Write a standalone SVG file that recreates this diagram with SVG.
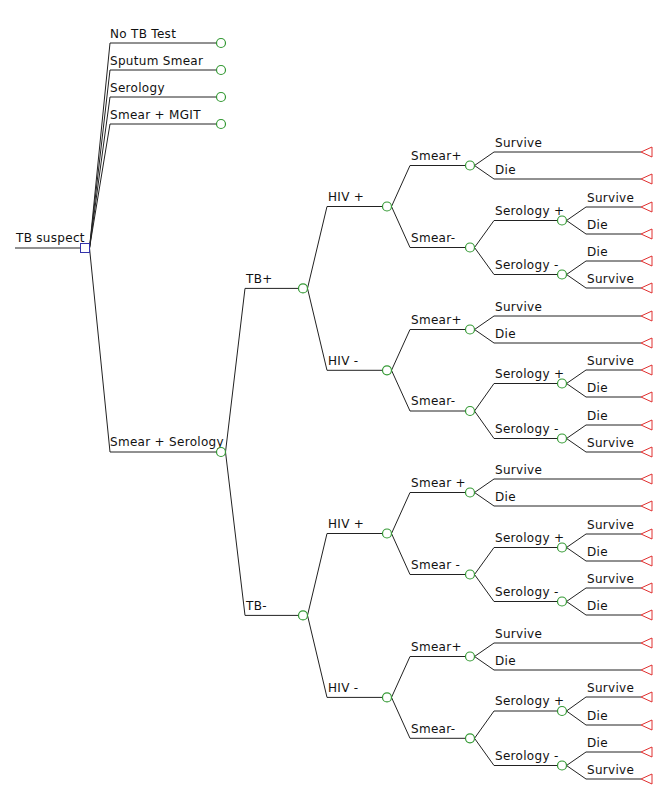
<svg xmlns="http://www.w3.org/2000/svg" xmlns:xlink="http://www.w3.org/1999/xlink" width="667" height="800" viewBox="0 0 667 800">
<style>
.e{fill:none;stroke:#222;stroke-width:1}
.c{fill:#fff;stroke:#339933;stroke-width:1.2}
.t{fill:#fff;stroke:#e03030;stroke-width:1}
text{font-family:"DejaVu Sans","Liberation Sans",sans-serif;font-size:12px;fill:#111;letter-spacing:0.3px}
</style>
<defs>
<circle id="ch" r="4.5" class="c"/>
<path id="tr" d="M0,0 L11,-5 V5 Z" class="t"/>
</defs>
<rect width="667" height="800" fill="#fff"/>
<g id="connectors">
<path class="e" d="M15,248H80.5"/>
<path class="e" d="M89.5,248L110,43H216.5M89.5,248L110,70H216.5M89.5,248L110,97H216.5M89.5,248L110,124H216.5M89.5,248L110,452H216.5"/>
<path class="e" d="M225.5,452L245,288.4H298.5M225.5,452L245,615.4H298.5"/>
<path class="e" d="M307.5,288.4L327,206.5H382.5M307.5,288.4L327,370.3H382.5M307.5,615.4L327,533.5H382.5M307.5,615.4L327,697.4H382.5"/>
<path class="e" d="M391.5,206.5L410,165.5H465.5M391.5,206.5L410,247.5H465.5M391.5,370.3L410,329.5H465.5M391.5,370.3L410,411H465.5M391.5,533.5L410,492.5H465.5M391.5,533.5L410,574.5H465.5M391.5,697.4L410,656.5H465.5M391.5,697.4L410,738.3H465.5"/>
<path class="e" d="M474.5,165.5L494,152H641M474.5,165.5L494,179H641M474.5,247.5L494,220.5H557.5M474.5,247.5L494,274.5H557.5M566.5,220.5L586,207H641M566.5,220.5L586,234H641M566.5,274.5L586,261H641M566.5,274.5L586,288H641"/>
<path class="e" d="M474.5,329.5L494,316H641M474.5,329.5L494,343H641M474.5,411L494,383.5H557.5M474.5,411L494,438.5H557.5M566.5,383.5L586,370H641M566.5,383.5L586,397H641M566.5,438.5L586,425H641M566.5,438.5L586,452H641"/>
<path class="e" d="M474.5,492.5L494,479H641M474.5,492.5L494,506H641M474.5,574.5L494,547.5H557.5M474.5,574.5L494,601.5H557.5M566.5,547.5L586,534H641M566.5,547.5L586,561H641M566.5,601.5L586,588H641M566.5,601.5L586,615H641"/>
<path class="e" d="M474.5,656.5L494,643H641M474.5,656.5L494,670H641M474.5,738.3L494,711H557.5M474.5,738.3L494,765.5H557.5M566.5,711L586,697H641M566.5,711L586,725H641M566.5,765.5L586,752H641M566.5,765.5L586,779H641"/>
</g>
<g id="root"><rect x="80.5" y="243.5" width="9" height="9" fill="#fff" stroke="#3333aa"/><text x="16" y="242">TB suspect</text></g>
<g id="strategies">
<text x="110" y="38">No TB Test</text><use href="#ch" x="221" y="43"/>
<text x="110" y="65">Sputum Smear</text><use href="#ch" x="221" y="70"/>
<text x="110" y="92">Serology</text><use href="#ch" x="221" y="97"/>
<text x="110" y="119">Smear + MGIT</text><use href="#ch" x="221" y="124"/>
<text x="110" y="446">Smear + Serology</text><use href="#ch" x="221" y="452"/>
</g>
<g id="tb">
<text x="246" y="283">TB+</text><use href="#ch" x="303" y="288.4"/>
<text x="246" y="610">TB-</text><use href="#ch" x="303" y="615.4"/>
</g>
<g id="hiv">
<text x="328" y="201">HIV +</text><use href="#ch" x="387" y="206.5"/>
<text x="328" y="365">HIV -</text><use href="#ch" x="387" y="370.3"/>
<text x="328" y="528">HIV +</text><use href="#ch" x="387" y="533.5"/>
<text x="328" y="692">HIV -</text><use href="#ch" x="387" y="697.4"/>
</g>
<g id="smear">
<text x="411" y="160">Smear+</text><use href="#ch" x="470" y="165.5"/>
<text x="411" y="242">Smear-</text><use href="#ch" x="470" y="247.5"/>
<text x="411" y="324">Smear+</text><use href="#ch" x="470" y="329.5"/>
<text x="411" y="405">Smear-</text><use href="#ch" x="470" y="411"/>
<text x="411" y="487">Smear +</text><use href="#ch" x="470" y="492.5"/>
<text x="411" y="569">Smear -</text><use href="#ch" x="470" y="574.5"/>
<text x="411" y="651">Smear+</text><use href="#ch" x="470" y="656.5"/>
<text x="411" y="733">Smear-</text><use href="#ch" x="470" y="738.3"/>
</g>
<g id="serology">
<text x="495" y="215">Serology +</text><use href="#ch" x="562" y="220.5"/>
<text x="495" y="269">Serology -</text><use href="#ch" x="562" y="274.5"/>
<text x="495" y="378">Serology +</text><use href="#ch" x="562" y="383.5"/>
<text x="495" y="433">Serology -</text><use href="#ch" x="562" y="438.5"/>
<text x="495" y="542">Serology +</text><use href="#ch" x="562" y="547.5"/>
<text x="495" y="596">Serology -</text><use href="#ch" x="562" y="601.5"/>
<text x="495" y="705">Serology +</text><use href="#ch" x="562" y="711"/>
<text x="495" y="760">Serology -</text><use href="#ch" x="562" y="765.5"/>
</g>
<g id="outcomes">
<text x="495" y="147">Survive</text><use href="#tr" x="641" y="152"/>
<text x="495" y="174">Die</text><use href="#tr" x="641" y="179"/>
<text x="587" y="202">Survive</text><use href="#tr" x="641" y="207"/>
<text x="587" y="229">Die</text><use href="#tr" x="641" y="234"/>
<text x="587" y="256">Die</text><use href="#tr" x="641" y="261"/>
<text x="587" y="283">Survive</text><use href="#tr" x="641" y="288"/>
<text x="495" y="311">Survive</text><use href="#tr" x="641" y="316"/>
<text x="495" y="338">Die</text><use href="#tr" x="641" y="343"/>
<text x="587" y="365">Survive</text><use href="#tr" x="641" y="370"/>
<text x="587" y="392">Die</text><use href="#tr" x="641" y="397"/>
<text x="587" y="420">Die</text><use href="#tr" x="641" y="425"/>
<text x="587" y="447">Survive</text><use href="#tr" x="641" y="452"/>
<text x="495" y="474">Survive</text><use href="#tr" x="641" y="479"/>
<text x="495" y="501">Die</text><use href="#tr" x="641" y="506"/>
<text x="587" y="529">Survive</text><use href="#tr" x="641" y="534"/>
<text x="587" y="556">Die</text><use href="#tr" x="641" y="561"/>
<text x="587" y="583">Survive</text><use href="#tr" x="641" y="588"/>
<text x="587" y="610">Die</text><use href="#tr" x="641" y="615"/>
<text x="495" y="638">Survive</text><use href="#tr" x="641" y="643"/>
<text x="495" y="665">Die</text><use href="#tr" x="641" y="670"/>
<text x="587" y="692">Survive</text><use href="#tr" x="641" y="697"/>
<text x="587" y="720">Die</text><use href="#tr" x="641" y="725"/>
<text x="587" y="747">Die</text><use href="#tr" x="641" y="752"/>
<text x="587" y="774">Survive</text><use href="#tr" x="641" y="779"/>
</g>
</svg>
